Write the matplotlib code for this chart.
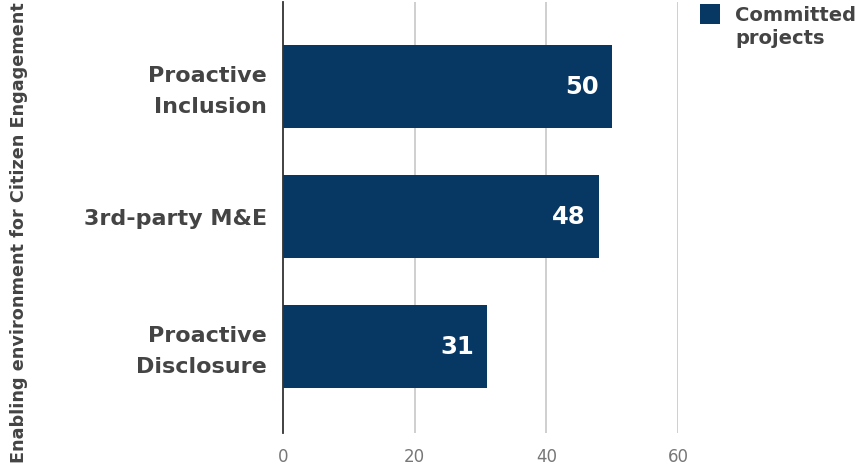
import matplotlib
matplotlib.use("Agg")
import matplotlib.pyplot as plt
from matplotlib.patches import Rectangle
from matplotlib.transforms import ScaledTranslation

categories = ["Proactive\nInclusion", "3rd-party M&E", "Proactive\nDisclosure"]
values = [50, 48, 31]
series_name = "Committed\nprojects"
xticks = [0, 20, 40, 60]
y_title = "Enabling environment for Citizen Engagement"

BAR = "#073763"
W, H = 859, 466
fig = plt.figure(figsize=(W / 100, H / 100), dpi=100)
plt.rcParams['font.family'] = ['DejaVu Sans']

left, right, top, bottom = 283, 678, 2, 433
ax = fig.add_axes([left / W, 1 - bottom / H, (right - left) / W, (bottom - top) / H])

ypos = list(range(len(categories)))
ax.barh(ypos, values, height=0.64, color=BAR, zorder=3)
ax.set_ylim(2.665, -0.65)
ax.set_xlim(0, 60)
ax.set_xticks(xticks)
ax.set_xticklabels([str(t) for t in xticks])
ax.set_yticks(ypos)
ax.set_yticklabels(categories, fontsize=16, fontweight='bold', color='#444444', linespacing=1.7)
ax.tick_params(axis='y', length=0, pad=11.5)
ax.tick_params(axis='x', length=0, pad=11, labelsize=12, labelcolor='#777777')
for lab in ax.get_yticklabels():
    if "\n" in lab.get_text():
        lab.set_transform(lab.get_transform() + ScaledTranslation(0, 3 / 100, fig.dpi_scale_trans))

for s in ['top', 'right', 'bottom']:
    ax.spines[s].set_visible(False)
ax.spines['left'].set_color('#333333')
ax.spines['left'].set_linewidth(1.3)
ax.spines['left'].set_zorder(4)

for t in xticks[1:]:
    ax.axvline(t, color='#cccccc', linewidth=1.3, zorder=1)

for y, v in zip(ypos, values):
    ax.annotate(str(v), xy=(v, y), xytext=(-9.5, 0), textcoords='offset points',
                ha='right', va='center', color='white', fontsize=17.5, fontweight='bold', zorder=5)

fig.text(19.5 / W, 1 - 233 / H, y_title, rotation=90, ha='center', va='center',
         fontsize=12.7, fontweight='bold', color='#444444')

fig.add_artist(Rectangle((700 / W, 1 - 24 / H), 20 / W, 20 / H, transform=fig.transFigure,
                         facecolor=BAR, edgecolor='none'))
fig.text(735 / W, 1 - 6 / H, series_name, ha='left', va='top', fontsize=14,
         fontweight='bold', color='#444444', linespacing=1.3)

fig.savefig("out.png", dpi=100)
